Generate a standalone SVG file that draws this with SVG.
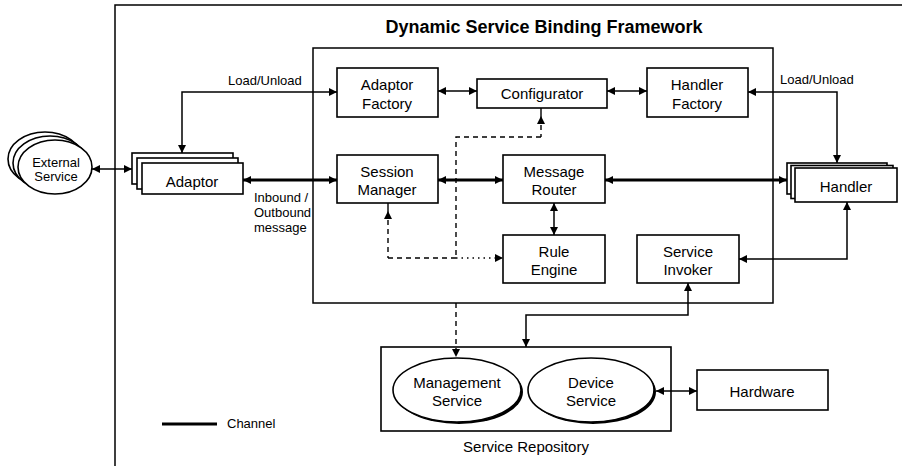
<svg xmlns="http://www.w3.org/2000/svg" width="902" height="466" viewBox="0 0 902 466">
<style>
.box{fill:#fff;stroke:#000;stroke-width:1.6}
.frame{fill:none;stroke:#000;stroke-width:1.5}
.t{font-family:"Liberation Sans",Arial,sans-serif;font-size:15px;fill:#000;text-anchor:middle}
.s{font-family:"Liberation Sans",Arial,sans-serif;font-size:13px;fill:#000}
.title{font-family:"Liberation Sans",Arial,sans-serif;font-size:18px;font-weight:bold;fill:#000;text-anchor:middle}
.thin{fill:none;stroke:#000;stroke-width:1.5;marker-start:url(#a);marker-end:url(#a)}
.thick{fill:none;stroke:#000;stroke-width:3;marker-start:url(#a);marker-end:url(#a)}
.dash{fill:none;stroke:#000;stroke-width:1.4;stroke-dasharray:5,4}
.dot{fill:none;stroke:#000;stroke-width:1.4;stroke-dasharray:1.5,4}
</style>
<defs>
<marker id="a" viewBox="0 0 8 8" refX="8" refY="4" markerWidth="8" markerHeight="8" markerUnits="userSpaceOnUse" orient="auto-start-reverse">
<path d="M0,0 L8,4 L0,8 z" fill="#000"/>
</marker>
</defs>
<rect width="902" height="466" fill="#fff"/>
<g id="outer-frame">
<path class="frame" d="M115,466 V5 H902"/>
<text class="title" x="544" y="33">Dynamic Service Binding Framework</text>
</g>
<g id="framework">
<rect class="frame" x="313" y="48" width="460" height="255"/>
</g>
<g id="external-service">
<ellipse class="box" cx="45" cy="159" rx="37" ry="27"/>
<ellipse class="box" cx="50" cy="163" rx="37" ry="27"/>
<ellipse class="box" cx="55" cy="167" rx="37" ry="27"/>
<text class="s" x="56" y="167" text-anchor="middle">External</text>
<text class="s" x="56" y="181" text-anchor="middle">Service</text>
</g>
<g id="adaptor">
<rect class="box" x="132" y="153" width="101" height="31"/>
<rect class="box" x="137" y="158" width="101" height="31"/>
<rect class="box" x="142" y="163" width="101" height="31"/>
<text class="t" x="192" y="187">Adaptor</text>
</g>
<g id="labels">
<text class="s" x="228" y="85">Load/Unload</text>
<text class="s" x="780" y="84">Load/Unload</text>
<text class="s" x="254" y="202">Inbound /</text>
<text class="s" x="254" y="217">Outbound</text>
<text class="s" x="254" y="232">message</text>
</g>
<g id="adaptor-factory">
<rect class="box" x="337" y="68" width="101" height="49"/>
<text class="t" x="387" y="90">Adaptor</text>
<text class="t" x="387" y="109">Factory</text>
</g>
<g id="configurator">
<rect class="box" x="477" y="79" width="130" height="29"/>
<text class="t" x="542" y="99">Configurator</text>
</g>
<g id="handler-factory">
<rect class="box" x="647" y="68" width="101" height="49"/>
<text class="t" x="697" y="90">Handler</text>
<text class="t" x="697" y="109">Factory</text>
</g>
<g id="session-manager">
<rect class="box" x="337" y="155" width="101" height="48"/>
<text class="t" x="387" y="177">Session</text>
<text class="t" x="387" y="195">Manager</text>
</g>
<g id="message-router">
<rect class="box" x="503" y="155" width="102" height="48"/>
<text class="t" x="554" y="177">Message</text>
<text class="t" x="554" y="195">Router</text>
</g>
<g id="rule-engine">
<rect class="box" x="503" y="235" width="102" height="48"/>
<text class="t" x="554" y="257">Rule</text>
<text class="t" x="554" y="275">Engine</text>
</g>
<g id="service-invoker">
<rect class="box" x="637" y="235" width="102" height="48"/>
<text class="t" x="688" y="257">Service</text>
<text class="t" x="688" y="275">Invoker</text>
</g>
<g id="handler">
<rect class="box" x="787" y="163" width="100" height="31"/>
<rect class="box" x="791" y="165.5" width="102" height="33"/>
<rect class="box" x="795" y="168" width="102" height="34"/>
<text class="t" x="846" y="192">Handler</text>
</g>
<g id="service-repository">
<rect class="box" x="381" y="347" width="290" height="84"/>
<text class="t" x="526" y="452">Service Repository</text>
</g>
<g id="management-service">
<ellipse cx="459" cy="392" rx="64" ry="32" fill="#000"/>
<ellipse class="box" cx="457" cy="390" rx="64" ry="32"/>
<text class="t" x="457" y="388">Management</text>
<text class="t" x="457" y="406">Service</text>
</g>
<g id="device-service">
<ellipse cx="593" cy="392" rx="63" ry="32" fill="#000"/>
<ellipse class="box" cx="591" cy="390" rx="63" ry="32"/>
<text class="t" x="591" y="388">Device</text>
<text class="t" x="591" y="406">Service</text>
</g>
<g id="hardware">
<rect class="box" x="697" y="370" width="131" height="40"/>
<text class="t" x="762" y="397">Hardware</text>
</g>
<g id="legend">
<line x1="162" y1="424" x2="217" y2="424" stroke="#000" stroke-width="3"/>
<text class="s" x="227" y="428">Channel</text>
</g>
<g id="connectors">
<path class="thin" d="M92,169 H132"/>
<path class="thin" d="M182,153 V92 H337"/>
<path class="thin" d="M438,91 H477"/>
<path class="thin" d="M607,91 H647"/>
<path class="thin" d="M748,92 H837 V163"/>
<path class="thick" d="M243,180 H337"/>
<path class="thick" d="M438,180 H503"/>
<path class="thick" d="M605,180 H787"/>
<path class="thin" d="M554,203 V235"/>
<path class="thin" d="M847,202 V259 H739"/>
<path class="thin" d="M688,283 V315 H526 V347"/>
<path class="thin" d="M656,391 H697"/>
<path class="dash" d="M541,137 H456 V258"/>
<path class="dash" d="M541,116 V137" marker-start="url(#a)"/>
<path class="dash" d="M388,258 H456"/>
<path class="dash" d="M388,211 V258" marker-start="url(#a)"/>
<path class="dot" d="M456,258 H503" marker-end="url(#a)"/>
<path class="dash" d="M456,303 V357" marker-end="url(#a)"/>
<path d="M541,108 V116 M388,203 V211" stroke="#000" stroke-width="1.4"/>
</g>
</svg>
